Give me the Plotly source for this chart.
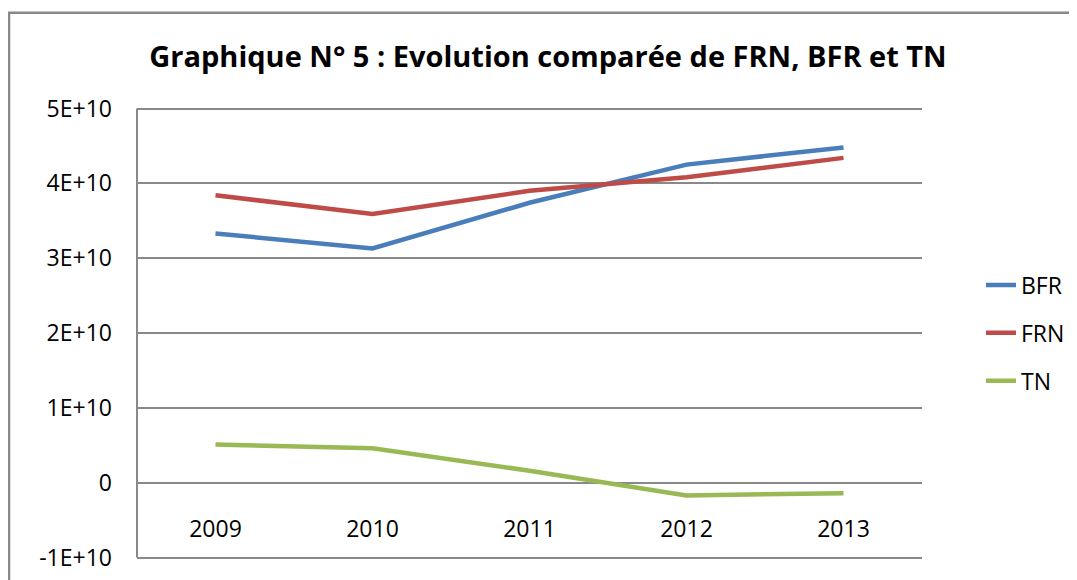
import plotly.graph_objects as go

years = ["2009", "2010", "2011", "2012", "2013"]
bfr = [3.33e10, 3.13e10, 3.74e10, 4.25e10, 4.48e10]
frn = [3.84e10, 3.59e10, 3.90e10, 4.08e10, 4.34e10]
tn = [0.51e10, 0.46e10, 0.16e10, -0.17e10, -0.14e10]
y_tickvals = [-1e10, 0, 1e10, 2e10, 3e10, 4e10, 5e10]
y_ticktext = ["-1E+10", "0", "1E+10", "2E+10", "3E+10", "4E+10", "5E+10"]

series = [("BFR", bfr, "#4A7EBB"), ("FRN", frn, "#BE4B48"), ("TN", tn, "#98B954")]

FONT = "Open Sans, Liberation Sans, sans-serif"
GRID = "#898989"

fig = go.Figure()
for name, vals, col in series:
    fig.add_trace(go.Scatter(
        x=years, y=vals, name=name, mode="lines", legendgroup=name,
        line=dict(color=col, width=4.5),
    ))

# the page body adds an 8px offset; work in screen pixels and subtract it
OFF = 8
W, H = 1077, 580
YMIN, YMAX = -1e10, 5e10
PAD = 0.02e10                     # small pad so the edge gridlines are drawn
PX_PER_UNIT = 450 / (YMAX - YMIN)  # 450 px between -1E+10 and 5E+10
padpx = PAD * PX_PER_UNIT
L = 137 - OFF
T = 108 - OFF - padpx
R = W - (922 - OFF)
B = H - (558 - OFF) - padpx
pw, ph = W - L - R, H - T - B

def px_x(p):
    return (p - OFF - L) / pw

def px_y(p):
    return (H - B - (p - OFF)) / ph

zero_pos = (0 - (YMIN - PAD)) / (YMAX - YMIN + 2 * PAD)

fig.update_layout(
    width=W, height=H,
    margin=dict(l=L, r=R, t=T, b=B),
    paper_bgcolor="white", plot_bgcolor="white",
    font=dict(family=FONT, size=23, color="black"),
    title=dict(
        text="<b>Graphique N° 5 : Evolution comparée de FRN, BFR et TN</b>",
        font=dict(family=FONT, size=29, color="black"),
        x=(548 - OFF) / W, xanchor="center", xref="container",
        y=1 - (57 - OFF) / H, yanchor="middle", yref="container",
    ),
    xaxis=dict(
        type="category", range=[-0.5, 4.5],
        showgrid=False, showline=False, zeroline=False, ticks="",
        anchor="free", position=zero_pos, ticklabelstandoff=30,
        tickfont=dict(family=FONT, size=23, color="black"),
    ),
    yaxis=dict(
        range=[YMIN - PAD, YMAX + PAD],
        tickvals=y_tickvals, ticktext=y_ticktext,
        showgrid=True, gridcolor=GRID, gridwidth=2,
        zeroline=False, showline=False, ticks="", ticklabelstandoff=24,
        tickfont=dict(family=FONT, size=23, color="black"),
    ),
    showlegend=True,
    legend=dict(
        x=px_x(981), xanchor="left", y=0.5, yanchor="middle",
        font=dict(family=FONT, size=23, color="black"),
        tracegroupgap=15, traceorder="grouped",
        bgcolor="rgba(0,0,0,0)", itemwidth=30,
    ),
    shapes=[
        dict(
            type="rect", xref="paper", yref="paper",
            x0=px_x(9), x1=px_x(1120), y0=px_y(640), y1=px_y(12),
            line=dict(color=GRID, width=2.5), fillcolor="rgba(0,0,0,0)", layer="below",
        ),
        # vertical value axis line spanning -1E+10 .. 5E+10
        dict(
            type="line", xref="paper", yref="y",
            x0=0, x1=0, y0=YMIN, y1=YMAX,
            line=dict(color=GRID, width=2), layer="below",
        ),
    ],
)

fig.write_html("out.html")
